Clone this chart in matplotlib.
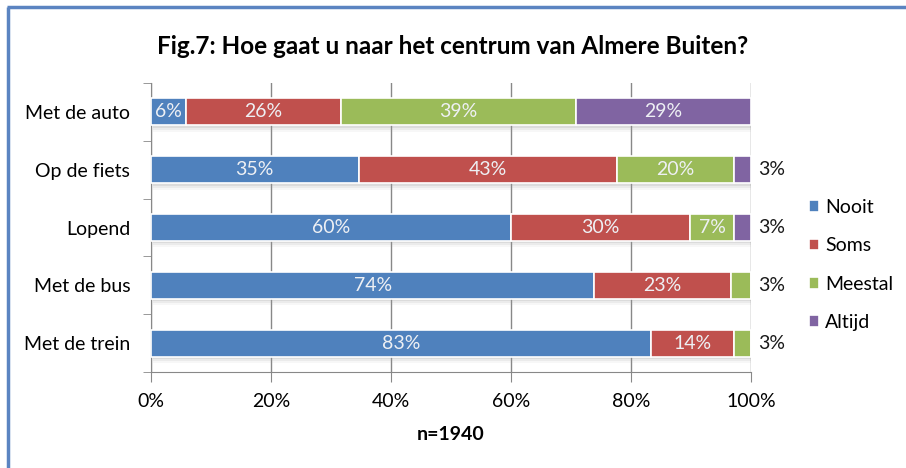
import matplotlib.pyplot as plt
from matplotlib.lines import Line2D

plt.rcParams['font.family'] = ['Lato', 'DejaVu Sans']

# Data (percent per category)
categories = ['Met de auto', 'Op de fiets', 'Lopend', 'Met de bus', 'Met de trein']
series = ['Nooit', 'Soms', 'Meestal', 'Altijd']
nooit = [5.8, 34.6, 60.0, 73.9, 83.4]
soms = [25.8, 43.0, 29.8, 22.7, 13.8]
meestal = [39.2, 19.6, 7.4, 3.4, 2.8]
altijd = [29.2, 2.8, 2.8, 0.0, 0.0]
colors = ['#4F81BD', '#C0504D', '#9BBB59', '#8064A2']

values = [nooit, soms, meestal, altijd]
fs = 14

fig = plt.figure(figsize=(9.06, 4.68), dpi=100)
ax = fig.add_axes([151 / 906, 1 - 372 / 468, 600 / 906, 289 / 468])

ypos = list(range(len(categories)))
bar_h = 0.47

# soft shadow under each bar
totals = [sum(v[i] for v in values) for i in ypos]
for k, a in enumerate([0.18, 0.12, 0.07]):
    ax.barh([y + 0.04 + 0.035 * k for y in ypos], totals, height=bar_h, left=0.3,
            color='#999999', alpha=a, zorder=1, linewidth=0)

left = [0.0] * len(categories)
for name, vals, col in zip(series, values, colors):
    ax.barh(ypos, vals, height=bar_h, left=left, color=col, label=name,
            edgecolor='white', linewidth=1.2, zorder=3)
    for i, v in enumerate(vals):
        if v <= 0:
            continue
        if v >= 5:
            ax.text(left[i] + v / 2, i, f'{round(v)}%', ha='center', va='center',
                    color='#eef0f4', fontsize=fs, zorder=4)
        else:
            ax.text(101.2, i, f'{round(v)}%', ha='left', va='center',
                    color='#1a1a1a', fontsize=fs, clip_on=False)
    left = [l + v for l, v in zip(left, vals)]

ax.set_xlim(0, 100)
ax.set_ylim(len(categories) - 0.5, -0.5)
ax.set_xticks([0, 20, 40, 60, 80, 100])
ax.set_xticklabels(['0%', '20%', '40%', '60%', '80%', '100%'], fontsize=fs)
ax.set_yticks(ypos)
ax.set_yticklabels(categories, fontsize=fs)
ax.set_yticks([y + 0.5 for y in range(-1, len(categories))], minor=True)
ax.tick_params(axis='y', which='major', length=0, pad=15)
ax.tick_params(axis='y', which='minor', length=6, color='#888888', direction='out')
ax.tick_params(axis='x', length=7, color='#888888', pad=8)
ax.grid(axis='x', color='#888888', linewidth=1, zorder=0)
ax.set_axisbelow(True)
for s in ['top', 'right']:
    ax.spines[s].set_visible(False)
for s in ['left', 'bottom']:
    ax.spines[s].set_color('#888888')

ax.set_xlabel('n=1940', fontsize=fs, fontweight='bold', labelpad=12)

fig.text(0.5, 1 - 47 / 468, 'Fig.7: Hoe gaat u naar het centrum van Almere Buiten?',
         ha='center', va='center', fontsize=17.5, fontweight='bold')

fig.legend(loc='center left', bbox_to_anchor=(791 / 906, 1 - 265 / 468),
           frameon=False, fontsize=fs, handlelength=0.55, handleheight=0.55,
           handletextpad=0.3, labelspacing=1.1)

# blue frame around the chart area (top and left edges visible)
fig.add_artist(Line2D([8 / 906, 8 / 906], [0, 1 - 7 / 468], transform=fig.transFigure,
                      color='#5B84C1', linewidth=2.5, solid_capstyle='butt'))
fig.add_artist(Line2D([7 / 906, 1], [1 - 7 / 468, 1 - 7 / 468], transform=fig.transFigure,
                      color='#5B84C1', linewidth=2.5, solid_capstyle='butt'))

fig.savefig('out.png', dpi=100)
